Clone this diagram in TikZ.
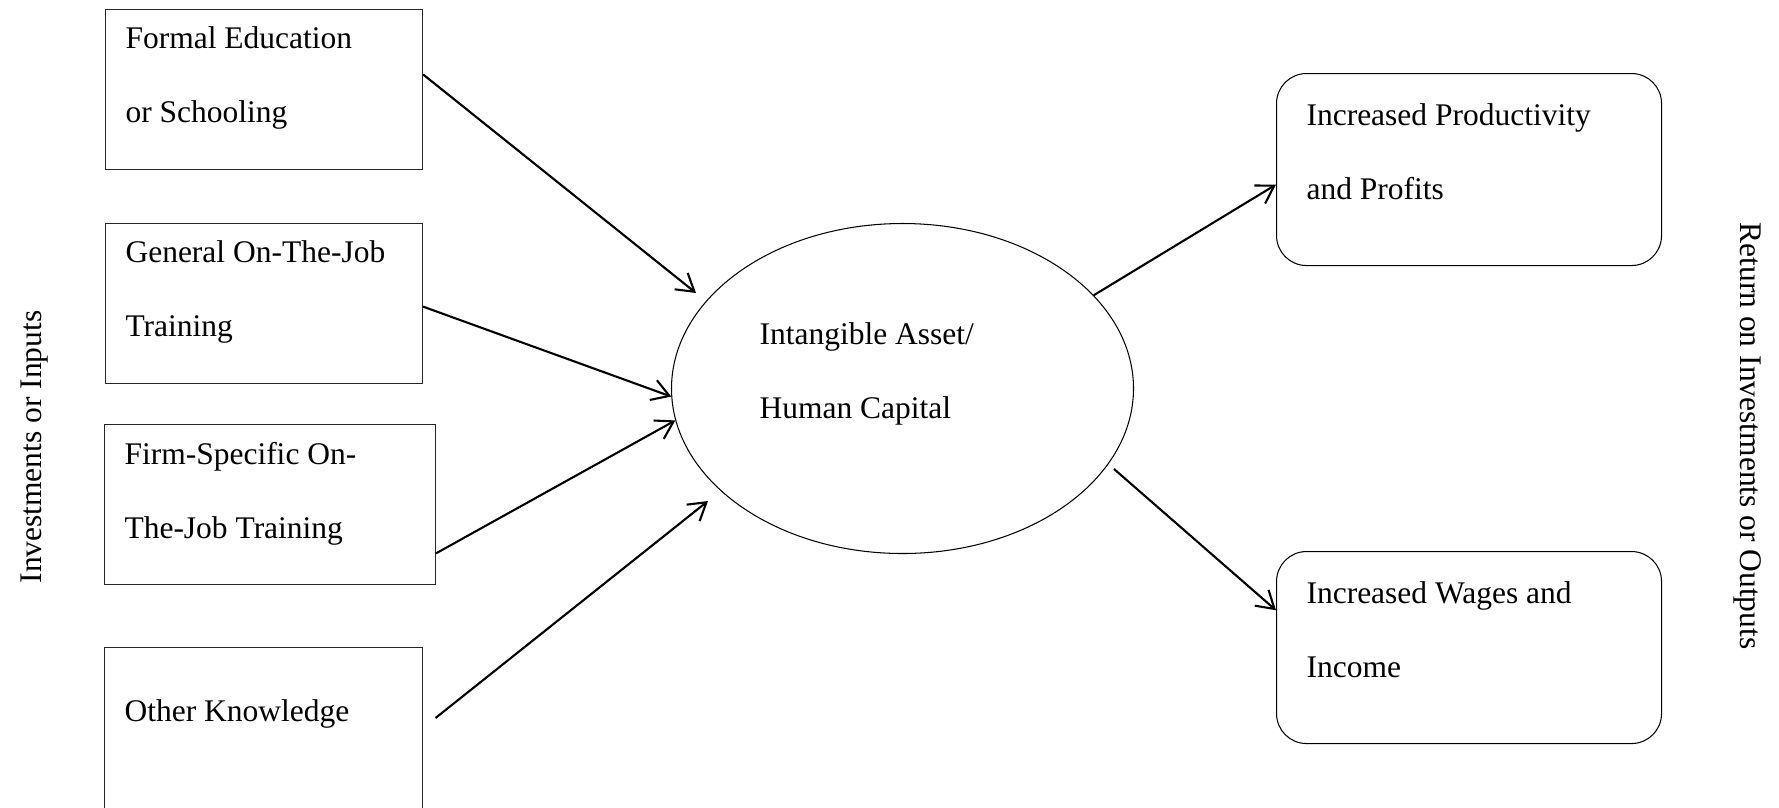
\documentclass[tikz,border=0pt]{standalone}
\usepackage{fontspec}
\setmainfont{Liberation Serif}
\usetikzlibrary{calc, positioning, arrows.meta, shapes.geometric}
\tikzset{
    in_box/.style={rectangle, draw=black!85, line width=0.4pt, anchor=north west, inner sep=0pt,
        minimum width=#1*0.381pt, minimum height=160*0.381pt},
    out_box/.style={rectangle, rounded corners=11.4pt, draw, line width=0.4pt, anchor=north west, inner sep=0pt,
        minimum width=385*0.381pt, minimum height=192*0.381pt},
    hc_ellipse/.style={ellipse, draw, line width=0.4pt, inner sep=0pt,
        minimum width=462*0.381pt, minimum height=330*0.381pt},
    box_text/.style={anchor=north west, inner sep=0pt, align=left, font=\fontsize{12pt}{28.2pt}\selectfont},
    side_text/.style={inner sep=0pt, font=\fontsize{12pt}{14pt}\selectfont},
    main_arrow/.style={-{Straight Barb[length=6.5pt, width=8pt]}, line width=0.8pt, black}
}
\begin{document}
\begin{tikzpicture}[x=0.381pt, y=-0.381pt]
    \useasboundingbox (0,0) rectangle (1779,807);
    \clip (0,0) rectangle (1779,807);
    % inputs
    \node[in_box=317] (fbox) at (105,9) {};
    \node[in_box=317] (gbox) at (105,223) {};
    \node[in_box=331] (sbox) at (104,424) {};
    \node[in_box=318, minimum height=165*0.381pt] (obox) at (104,647) {};
    \node[box_text] (ftext) at ($(fbox.north west)+(20,17.5)$) {Formal Education\\or Schooling};
    \node[box_text] (gtext) at ($(gbox.north west)+(20,17.5)$) {General On-The-Job\\Training};
    \node[box_text] (stext) at ($(sbox.north west)+(20,17.5)$) {Firm-Specific On-\\The-Job Training};
    \node[box_text] (otext) at ($(obox.north west)+(20,52.5)$) {Other Knowledge};
    % human capital
    \node[hc_ellipse] (hc) at (902.5,388.5) {};
    \node[box_text] (hctext) at (759,322.5) {Intangible Asset/\\Human Capital};
    % outputs
    \node[out_box] (pbox) at (1276,73) {};
    \node[out_box] (wbox) at (1276,551) {};
    \node[box_text] (ptext) at ($(pbox.north west)+(30,30.5)$) {Increased Productivity\\and Profits};
    \node[box_text] (wtext) at ($(wbox.north west)+(30,30.5)$) {Increased Wages and\\Income};
    % side labels
    \node[side_text, rotate=90] (inlabel) at (34.5,447) {Investments or Inputs};
    \node[side_text, rotate=-90] (outlabel) at (1748,436) {Return on Investments or Outputs};
    % arrows
    \coordinate (a1tip) at (696,293);
    \coordinate (a4tail) at (435.5,718);
    \coordinate (a4tip) at (708,501);
    \coordinate (a6tail) at (1114,469);
    \draw[main_arrow] ($(fbox.north east)!0.406!(fbox.south east)$) -- (a1tip);
    \draw[main_arrow] ($(gbox.north east)!0.519!(gbox.south east)$) -- (hc.182);
    \draw[main_arrow] ($(sbox.north east)!0.803!(sbox.south east)$) -- (hc.188.5);
    \draw[main_arrow] (a4tail) -- (a4tip);
    \draw[main_arrow] (hc.26) -- ($(pbox.north west)!0.578!(pbox.south west)$);
    \draw[main_arrow] (a6tail) -- ($(wbox.north west)!0.307!(wbox.south west)$);
\end{tikzpicture}
\end{document}
